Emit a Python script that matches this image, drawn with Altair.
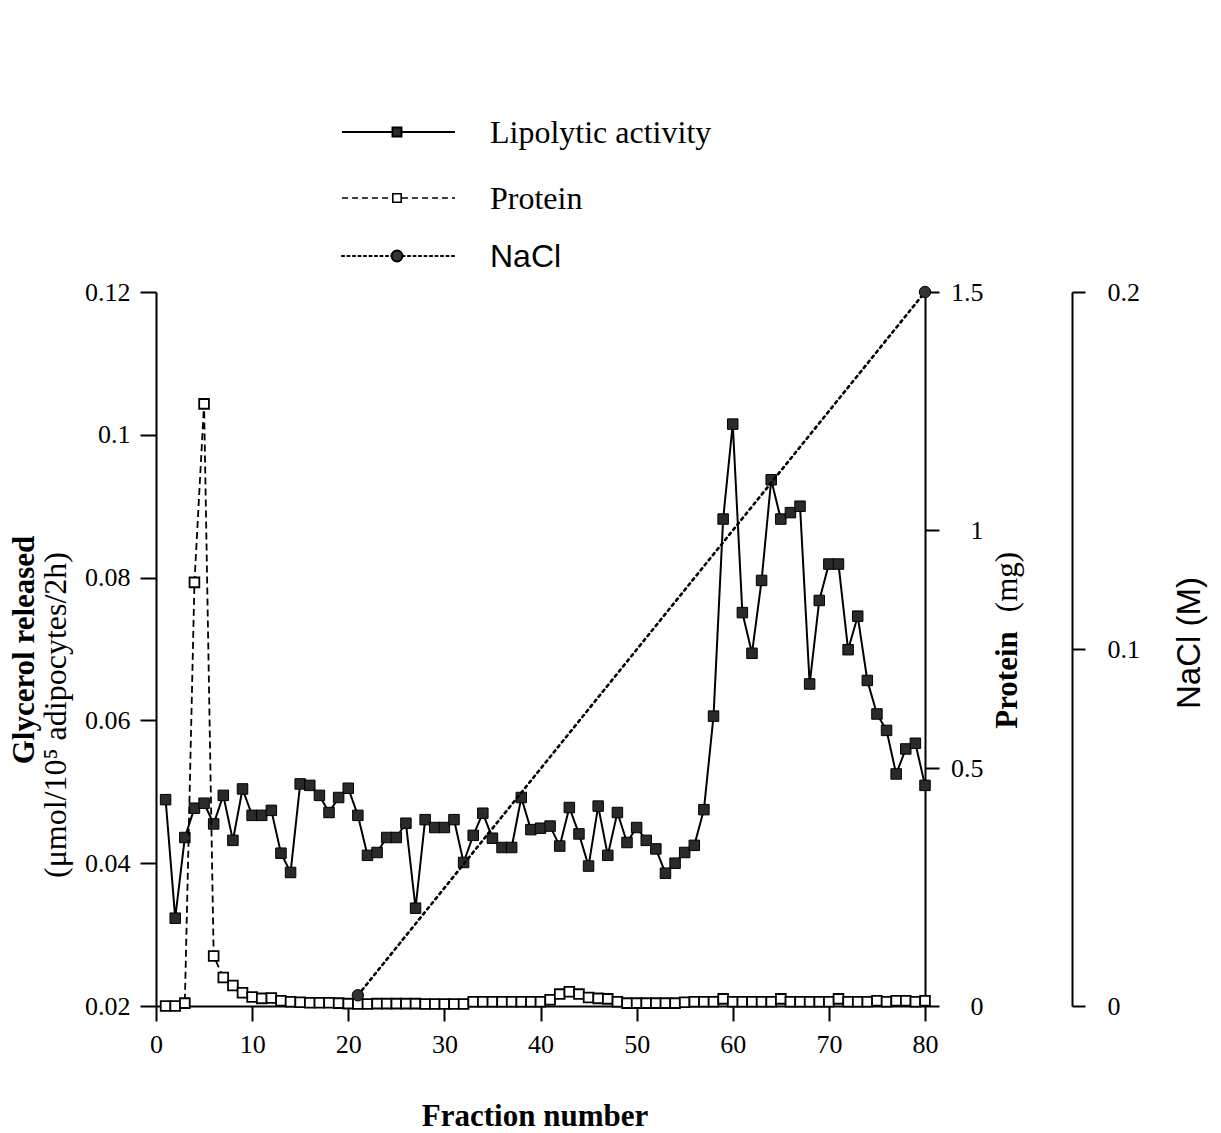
import altair as alt
import pandas as pd

# ---------------- data ----------------
fractions = list(range(1, 81))

glycerol = [
    0.0489, 0.0323, 0.0436, 0.0477, 0.0484, 0.0455, 0.0495, 0.0432, 0.0504, 0.0467,
    0.0467, 0.0474, 0.0414, 0.0387, 0.0511, 0.0509, 0.0495, 0.0471, 0.0492, 0.0505,
    0.0467, 0.0411, 0.0415, 0.0436, 0.0436, 0.0456, 0.0337, 0.0461, 0.0450, 0.0450,
    0.0461, 0.0401, 0.0439, 0.0470, 0.0435, 0.0422, 0.0422, 0.0492, 0.0447, 0.0449,
    0.0452, 0.0424, 0.0478, 0.0441, 0.0396, 0.0480, 0.0411, 0.0471, 0.0429, 0.0450,
    0.0432, 0.0420, 0.0386, 0.0400, 0.0415, 0.0425, 0.0475, 0.0606, 0.0882, 0.1015,
    0.0751, 0.0694, 0.0796, 0.0937, 0.0882, 0.0891, 0.0900, 0.0651, 0.0768, 0.0819,
    0.0819, 0.0699, 0.0746, 0.0656, 0.0609, 0.0586, 0.0525, 0.0560, 0.0568, 0.0509,
]

protein = [
    0.000, 0.000, 0.006, 0.890, 1.265, 0.105, 0.060, 0.043, 0.028, 0.019,
    0.016, 0.017, 0.011, 0.009, 0.008, 0.007, 0.007, 0.007, 0.006, 0.005,
    0.004, 0.004, 0.005, 0.005, 0.005, 0.005, 0.005, 0.004, 0.004, 0.004,
    0.004, 0.004, 0.009, 0.009, 0.009, 0.009, 0.009, 0.009, 0.009, 0.009,
    0.013, 0.025, 0.030, 0.025, 0.018, 0.016, 0.015, 0.009, 0.006, 0.006,
    0.006, 0.006, 0.006, 0.006, 0.008, 0.009, 0.009, 0.009, 0.015, 0.009,
    0.009, 0.009, 0.009, 0.009, 0.015, 0.009, 0.009, 0.009, 0.009, 0.009,
    0.015, 0.009, 0.009, 0.009, 0.011, 0.009, 0.011, 0.011, 0.009, 0.011,
]

nacl_fraction = [21, 80]
nacl_molar = [0.003, 0.2]

x_ticks = [0, 10, 20, 30, 40, 50, 60, 70, 80]
glycerol_ticks = [0.02, 0.04, 0.06, 0.08, 0.10, 0.12]
protein_ticks = [0, 0.5, 1, 1.5]
nacl_ticks = [0, 0.1, 0.2]

legend_labels = ["Lipolytic activity", "Protein", "NaCl"]

df = pd.DataFrame({"fraction": fractions, "glycerol": glycerol, "protein": protein})
dn = pd.DataFrame({"fraction": nacl_fraction, "nacl": nacl_molar})
one = pd.DataFrame({"k": [0]})

SERIF = "Liberation Serif"
SANS = "Liberation Sans"
W, H = 769, 714

common_axis = dict(
    title=None, grid=False, domainColor="black", tickColor="black",
    labelColor="black", labelFont=SERIF, labelFontSize=26, domainWidth=2,
    tickWidth=2, labelOverlap=False, labelFlush=False,
)

xenc = alt.X(
    "fraction:Q",
    scale=alt.Scale(domain=[0, 80], nice=False, zero=False),
    axis=alt.Axis(values=x_ticks, tickSize=15, labelPadding=10, format="d", **common_axis),
)

# --- lipolytic activity (left axis) ---
g_y = alt.Y(
    "glycerol:Q",
    scale=alt.Scale(domain=[0.02, 0.12], nice=False, zero=False),
    axis=alt.Axis(orient="left", values=glycerol_ticks, format=".2~f",
                  tickSize=16, labelPadding=10, **common_axis),
)
g_base = alt.Chart(df).encode(x=xenc, y=g_y)
g_line = g_base.mark_line(color="black", strokeWidth=2)
g_pts = g_base.mark_point(shape="square", filled=True, size=110, fill="#2a2a2a",
                          stroke="black", strokeWidth=1, opacity=1)
glycerol_layer = alt.layer(g_line, g_pts)

# --- protein (right axis) ---
p_y = alt.Y(
    "protein:Q",
    scale=alt.Scale(domain=[0, 1.5], nice=False, zero=False),
    axis=alt.Axis(orient="right", values=protein_ticks, format=".1~f",
                  tickSize=14, labelPadding=44, labelAlign="right", **common_axis),
)
p_base = alt.Chart(df).encode(x=xenc, y=p_y)
p_line = p_base.mark_line(color="black", strokeWidth=1.8, strokeDash=[7, 4])
p_pts = p_base.mark_point(shape="square", filled=True, size=95, fill="white",
                          stroke="black", strokeWidth=1.8, opacity=1)
protein_layer = alt.layer(p_line, p_pts)

# --- NaCl (far right axis) ---
n_y = alt.Y(
    "nacl:Q",
    scale=alt.Scale(domain=[0, 0.2], nice=False, zero=False),
    axis=alt.Axis(orient="right", offset=147, values=nacl_ticks, format=".1~f",
                  tickSize=13, labelPadding=22, labelAlign="left", **common_axis),
)
n_base = alt.Chart(dn).encode(x=xenc, y=n_y)
n_line = n_base.mark_line(color="black", strokeWidth=2.6, strokeDash=[2.5, 4],
                          strokeCap="round")
n_pts = n_base.mark_point(shape="circle", filled=True, size=130, fill="#333",
                          stroke="black", strokeWidth=1, opacity=1)
nacl_layer = alt.layer(n_line, n_pts)

# --- custom legend (top) ---
LX1, LX2, LXM, LTX = 186, 299, 241, 334
rows_y = [-160, -94, -36]
leg = []
leg.append(alt.Chart(one).mark_rule(color="black", strokeWidth=2).encode(
    x=alt.value(LX1), x2=alt.value(LX2), y=alt.value(rows_y[0])))
leg.append(alt.Chart(one).mark_point(shape="square", filled=True, size=80, fill="#2a2a2a",
                                     stroke="black", opacity=1).encode(
    x=alt.value(LXM), y=alt.value(rows_y[0])))
leg.append(alt.Chart(one).mark_rule(color="black", strokeWidth=1.6, strokeDash=[6, 4]).encode(
    x=alt.value(LX1), x2=alt.value(LX2), y=alt.value(rows_y[1])))
leg.append(alt.Chart(one).mark_point(shape="square", filled=True, size=70, fill="white",
                                     stroke="black", strokeWidth=1.6, opacity=1).encode(
    x=alt.value(LXM), y=alt.value(rows_y[1])))
leg.append(alt.Chart(one).mark_rule(color="black", strokeWidth=2.2, strokeDash=[2, 3.5],
                                    strokeCap="round").encode(
    x=alt.value(LX1), x2=alt.value(LX2), y=alt.value(rows_y[2])))
leg.append(alt.Chart(one).mark_point(shape="circle", filled=True, size=120, fill="#333",
                                     stroke="black", opacity=1).encode(
    x=alt.value(LXM), y=alt.value(rows_y[2])))
leg_fonts = [SERIF, SERIF, SANS]
for lab, yy, fnt in zip(legend_labels, rows_y, leg_fonts):
    leg.append(alt.Chart(pd.DataFrame({"t": [lab]})).mark_text(
        align="left", baseline="middle", font=fnt, fontSize=32, color="black").encode(
        x=alt.value(LTX), y=alt.value(yy + 1), text="t:N"))

# --- axis titles as text marks ---
def txt(s, x, y, size, font=SERIF, weight="normal", angle=0, style="normal"):
    kw = dict(align="center", baseline="middle", font=font, fontSize=size,
              fontWeight=weight, fontStyle=style, color="black")
    if angle:
        kw["angle"] = angle
    return alt.Chart(pd.DataFrame({"t": [s]})).mark_text(**kw).encode(
        x=alt.value(x), y=alt.value(y), text="t:N")

titles = [
    txt("Fraction number", 379, 825, 31, weight="bold"),
    txt("Glycerol released", -131, 358, 31, weight="bold", angle=270),
    txt("(μmol/10⁵ adipocytes/2h)", -100, 423, 32, angle=270),
    txt("Protein", 852, 388, 31, weight="bold", angle=270),
    txt("(mg)", 852, 290, 31, angle=270),
    txt("NaCl  (M)", 1034, 351, 33, font=SANS, angle=270),
]

chart = alt.layer(
    glycerol_layer, protein_layer, nacl_layer, *leg, *titles
).resolve_scale(y="independent").properties(
    width=W, height=H,
    autosize=alt.AutoSizeParams(type="none"),
    padding={"left": 156, "top": 292, "right": 296, "bottom": 127},
    background="white",
).configure_view(stroke=None)

chart.save("out.html", embed_options={"renderer": "svg", "actions": False})
